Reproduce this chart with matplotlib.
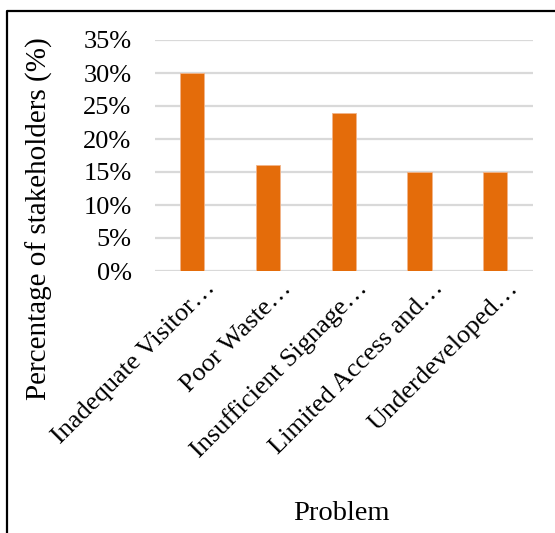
import matplotlib
matplotlib.use("Agg")
import matplotlib.pyplot as plt
from matplotlib.lines import Line2D
from matplotlib.transforms import ScaledTranslation
from matplotlib.ticker import PercentFormatter

problems = ["Inadequate Visitor\u2026", "Poor Waste\u2026", "Insufficient Signage\u2026",
            "Limited Access and\u2026", "Underdeveloped\u2026"]
shares = [30, 16, 24, 15, 15]
y_ticks = [0, 5, 10, 15, 20, 25, 30, 35]

plt.rcParams["font.family"] = ["Liberation Serif", "DejaVu Serif"]

W, H = 555, 533
fig = plt.figure(figsize=(W / 100, H / 100), dpi=100)
ax = fig.add_axes([154.5 / W, 1 - 271 / H, (533 - 154.5) / W, (271 - 40) / H])

x = range(len(problems))
ax.bar(x, shares, width=0.32, color="#E46C0A", edgecolor="#F2B48A", linewidth=0.6, zorder=3)

ax.set_ylim(0, 35)
ax.set_xlim(-0.5, len(problems) - 0.5)
ax.set_yticks(y_ticks)
ax.yaxis.set_major_formatter(PercentFormatter(decimals=0))
ax.grid(axis="y", color="#D9D9D9", linewidth=1.6, zorder=0)
ax.set_axisbelow(True)
for s in ax.spines.values():
    s.set_visible(False)
ax.tick_params(axis="both", length=0, labelsize=19)
ax.tick_params(axis="y", pad=16.5)
ax.tick_params(axis="x", pad=0)

ax.set_xticks(list(x))
ax.set_xticklabels(problems, rotation=45, ha="right", va="center", rotation_mode="anchor")
shift = ScaledTranslation(20 / 100, -14 / 100, fig.dpi_scale_trans)
for lbl in ax.get_xticklabels():
    lbl.set_transform(lbl.get_transform() + shift)

fig.text(39.5 / W, 1 - 219 / H, "Percentage of stakeholders (%)", rotation=90,
         ha="center", va="center", fontsize=21)
fig.text(341 / W, 1 - 514 / H, "Problem", ha="center", va="center", fontsize=20.5)

# outer frame: left and top edges
fig.add_artist(Line2D([7 / W, 7 / W, 1.0], [0.0, 1 - 11 / H, 1 - 11 / H],
                      transform=fig.transFigure, color="black", linewidth=1.6))

fig.savefig("out.png", dpi=100)
